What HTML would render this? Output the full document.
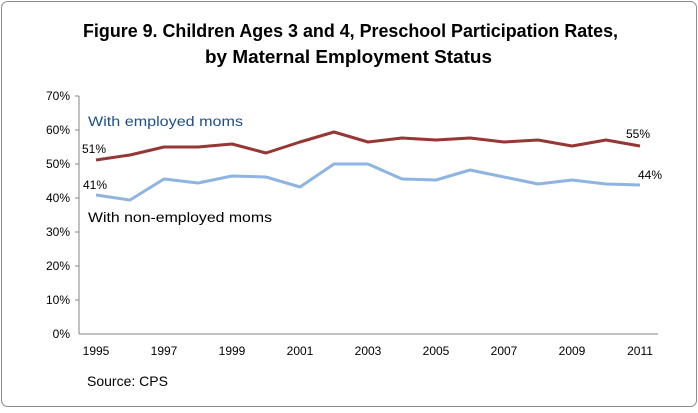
<!DOCTYPE html><html><head><style>body{margin:0;background:#fff}</style></head><body>
<svg width="698" height="408" xmlns="http://www.w3.org/2000/svg" font-family="Liberation Sans, sans-serif">
<rect x="1.5" y="1.5" width="695" height="405" rx="6" fill="#fff" stroke="#8c8c8c"/>
<text x="83" y="37" textLength="535" lengthAdjust="spacingAndGlyphs" font-weight="bold" font-size="18.5">Figure 9. Children Ages 3 and 4, Preschool Participation Rates,</text>
<text x="205" y="63" textLength="287" lengthAdjust="spacingAndGlyphs" font-weight="bold" font-size="18.5">by Maternal Employment Status</text>
<g stroke="#868686" stroke-width="1">
<line x1="79" y1="96" x2="79" y2="334"/><line x1="79" y1="334" x2="658" y2="334"/>
<line x1="75" y1="96" x2="79" y2="96"/><line x1="75" y1="130" x2="79" y2="130"/><line x1="75" y1="164" x2="79" y2="164"/><line x1="75" y1="198" x2="79" y2="198"/><line x1="75" y1="232" x2="79" y2="232"/><line x1="75" y1="266" x2="79" y2="266"/><line x1="75" y1="300" x2="79" y2="300"/>
</g>
<g font-size="12" text-anchor="end" fill="#000">
<text x="70" y="100">70%</text><text x="70" y="134">60%</text><text x="70" y="168">50%</text><text x="70" y="202">40%</text><text x="70" y="236">30%</text><text x="70" y="270">20%</text><text x="70" y="304">10%</text><text x="70" y="338">0%</text>
</g>
<g font-size="12" text-anchor="middle">
<text x="96" y="355">1995</text><text x="164" y="355">1997</text><text x="232" y="355">1999</text><text x="300" y="355">2001</text><text x="368" y="355">2003</text><text x="436" y="355">2005</text><text x="504" y="355">2007</text><text x="572" y="355">2009</text><text x="640" y="355">2011</text>
</g>
<polyline fill="none" stroke="#953735" stroke-width="3" stroke-linejoin="round" points="96,160 130,155 164,147 198,147 232,144 266,153 300,142 334,132 368,142 402,138 436,140 470,138 504,142 538,140 572,146 606,140 640,146"/>
<polyline fill="none" stroke="#8eb4e3" stroke-width="3" stroke-linejoin="round" points="96,195 130,200 164,179 198,183 232,176 266,177 300,187 334,164 368,164 402,179 436,180 470,170 504,177 538,184 572,180 606,184 640,185"/>
<text x="88" y="126" font-size="14" textLength="155" lengthAdjust="spacingAndGlyphs" fill="#1f4e8c">With employed moms</text>
<text x="88" y="222" font-size="14" textLength="184" lengthAdjust="spacingAndGlyphs" fill="#000">With non-employed moms</text>
<g font-size="12"><text x="82" y="153">51%</text><text x="83" y="189">41%</text><text x="626" y="138">55%</text><text x="638" y="179">44%</text></g>
<text x="87" y="386" font-size="14">Source: CPS</text>
</svg></body></html>
